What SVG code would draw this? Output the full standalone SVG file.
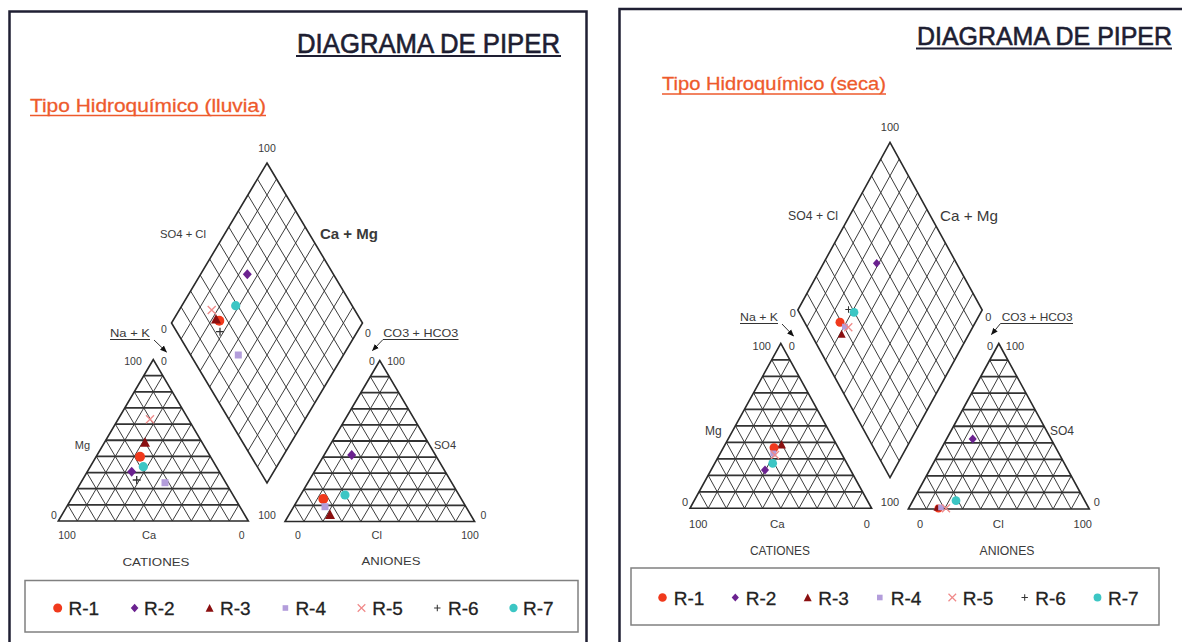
<svg xmlns="http://www.w3.org/2000/svg" width="1182" height="642" viewBox="0 0 1182 642">
<style>
.t{font-family:"Liberation Sans",Arial,sans-serif;fill:#3a3a3a}
.n{font-size:10.5px;text-anchor:middle}
.l{font-size:11px;text-anchor:middle}
.ttl{font-size:27px;fill:#1e1e32;stroke:#1e1e32;stroke-width:0.6}
.sub{font-size:19px;fill:#ee5a2c;stroke:#ee5a2c;stroke-width:0.3}
.lg{font-size:19px;fill:#222;stroke:#222;stroke-width:0.3}
.gd{fill:none;stroke:#3c3c3c;stroke-width:1}
.gh{fill:none;stroke:#333;stroke-width:1.8}
.ge{fill:none;stroke:#2a2a2a;stroke-width:1.6}
.frame{fill:none;stroke:#1f1f33;stroke-width:2.5}
.lbox{fill:#fff;stroke:#808080;stroke-width:1.5}
.ul{stroke:#1e1e32;stroke-width:2.2}
.uls{stroke:#ee5a2c;stroke-width:1.5}
.lead{fill:none;stroke:#333;stroke-width:1}
</style>
<defs>
<marker id="ah" viewBox="0 0 10 10" refX="9" refY="5" markerWidth="7" markerHeight="7" orient="auto" markerUnits="userSpaceOnUse"><path d="M0 1L10 5L0 9Z" fill="#111"/></marker>
<g id="T">
<path class="gd" vector-effect="non-scaling-stroke" d="M-80 100L10 10M-60 100L20 20M-40 100L30 30M-20 100L40 40M0 100L50 50M20 100L60 60M40 100L70 70M60 100L80 80M80 100L90 90M-80 100L-90 90M-60 100L-80 80M-40 100L-70 70M-20 100L-60 60M0 100L-50 50M20 100L-40 40M40 100L-30 30M60 100L-20 20M80 100L-10 10"/>
<path class="gh" vector-effect="non-scaling-stroke" d="M-10 10H10M-20 20H20M-30 30H30M-40 40H40M-50 50H50M-60 60H60M-70 70H70M-80 80H80M-90 90H90"/>
<path class="ge" vector-effect="non-scaling-stroke" d="M0 0L-100 100H100Z"/>
</g>
<g id="D">
<path class="gd" vector-effect="non-scaling-stroke" d="M10 10L-90 110M20 20L-80 120M30 30L-70 130M40 40L-60 140M50 50L-50 150M60 60L-40 160M70 70L-30 170M80 80L-20 180M90 90L-10 190M-10 10L90 110M-20 20L80 120M-30 30L70 130M-40 40L60 140M-50 50L50 150M-60 60L40 160M-70 70L30 170M-80 80L20 180M-90 90L10 190"/>
<path class="ge" vector-effect="non-scaling-stroke" d="M0 0L100 100L0 200L-100 100Z"/>
</g>
<g id="m1"><circle r="5" fill="#f0391c"/></g>
<g id="m2"><path d="M0 -5L4.5 0L0 5L-4.5 0Z" fill="#6b2290"/></g>
<g id="m3"><path d="M0 -5.5L5 4L-5 4Z" fill="#8a0f10"/></g>
<g id="m4"><rect x="-3.5" y="-3.5" width="7" height="7" fill="#b39ddb"/></g>
<g id="m5"><path d="M-4 -4L4 4M4 -4L-4 4" stroke="#f08a8a" stroke-width="1.3"/></g>
<g id="m6"><path d="M-4 0H4M0 -4V4" stroke="#333" stroke-width="1.3"/></g>
<g id="m7"><circle r="4.6" fill="#3cc6c4"/></g>
</defs>
<rect width="1182" height="642" fill="#fff"/>

<!-- LEFT PANEL -->
<g id="panel-lluvia">
<rect class="frame" x="9.5" y="11.5" width="577" height="700"/>
<g id="lluvia-title">
<text class="t ttl" x="297" y="53" textLength="263" lengthAdjust="spacingAndGlyphs">DIAGRAMA DE PIPER</text>
<line class="ul" x1="296" y1="56" x2="561" y2="56"/>
</g>
<g id="lluvia-subtitle">
<text class="t sub" x="30" y="112" textLength="236" lengthAdjust="spacingAndGlyphs">Tipo Hidroquímico (lluvia)</text>
<line class="uls" x1="30" y1="115.5" x2="266" y2="115.5"/>
</g>
<g id="lluvia-diamond">
<use href="#D" transform="translate(267,163) scale(0.955,1.6)"/>
<text class="t n" x="267" y="152">100</text>
<text class="t l" x="183" y="238" textLength="46" lengthAdjust="spacingAndGlyphs">SO4 + Cl</text>
<text class="t" x="349" y="239" font-size="14" font-weight="bold" text-anchor="middle" fill="#222" textLength="58" lengthAdjust="spacingAndGlyphs">Ca + Mg</text>
<text class="t n" x="164" y="333">0</text>
<text class="t n" x="368" y="337">0</text>
<use href="#m2" x="247.3" y="274.3"/>
<use href="#m7" x="235.7" y="305.7"/>
<use href="#m5" x="211.7" y="310"/>
<use href="#m1" x="219.3" y="320.7"/>
<use href="#m3" x="216" y="319.5"/>
<use href="#m6" x="220" y="331.7"/>
<use href="#m4" x="238.3" y="355"/>
</g>
<g id="lluvia-cationes">
<use href="#T" transform="translate(153.3,359.5) scale(0.95,1.615)"/>
<text class="t l" x="130" y="337" textLength="40" lengthAdjust="spacingAndGlyphs">Na + K</text>
<text class="t n" x="133" y="364.5">100</text>
<text class="t n" x="164" y="364.5">0</text>
<text class="t l" x="82.5" y="449">Mg</text>
<text class="t n" x="54" y="519">0</text>
<text class="t n" x="67" y="539">100</text>
<text class="t l" x="149" y="539">Ca</text>
<text class="t n" x="241.7" y="539">0</text>
<text class="t l" x="156" y="566" textLength="67" lengthAdjust="spacingAndGlyphs">CATIONES</text>
<use href="#m5" x="150" y="419.3"/>
<use href="#m3" x="145" y="442.7"/>
<use href="#m1" x="140" y="456.7"/>
<use href="#m7" x="143.3" y="466.7"/>
<use href="#m2" x="131.7" y="471.7"/>
<use href="#m6" x="136.7" y="480"/>
<use href="#m4" x="165" y="482.7"/>
</g>
<g id="lluvia-aniones">
<use href="#T" transform="translate(379.8,360.5) scale(0.948,1.61)"/>
<text class="t l" x="420.8" y="337" textLength="75" lengthAdjust="spacingAndGlyphs">CO3 + HCO3</text>
<text class="t n" x="372" y="364.5">0</text>
<text class="t n" x="396" y="364.5">100</text>
<text class="t l" x="445" y="449">SO4</text>
<text class="t n" x="483.3" y="519">0</text>
<text class="t n" x="267" y="519">100</text>
<text class="t n" x="298" y="539">0</text>
<text class="t l" x="376.7" y="539">Cl</text>
<text class="t n" x="470" y="539">100</text>
<text class="t l" x="391" y="565" textLength="59" lengthAdjust="spacingAndGlyphs">ANIONES</text>
<use href="#m2" x="351.7" y="455"/>
<use href="#m7" x="345" y="495"/>
<use href="#m1" x="323.3" y="499"/>
<use href="#m4" x="325" y="506.7"/>
<use href="#m3" x="330" y="515"/>
</g>
<g id="lluvia-legend">
<rect class="lbox" x="25" y="580.5" width="553" height="51.5"/>
<use href="#m1" transform="translate(57.7,608) scale(0.9)"/>
<text class="t lg" x="68.5" y="615">R-1</text>
<use href="#m2" transform="translate(134.6,608) scale(0.85)"/>
<text class="t lg" x="144" y="615">R-2</text>
<use href="#m3" transform="translate(209.6,608.5) scale(0.8)"/>
<text class="t lg" x="220" y="615">R-3</text>
<use href="#m4" transform="translate(285.4,608) scale(0.8)"/>
<text class="t lg" x="295.4" y="615">R-4</text>
<use href="#m5" transform="translate(361.5,608) scale(0.95)"/>
<text class="t lg" x="372.3" y="615">R-5</text>
<use href="#m6" transform="translate(437.3,608) scale(0.8)"/>
<text class="t lg" x="448" y="615">R-6</text>
<use href="#m7" transform="translate(513.5,608) scale(0.9)"/>
<text class="t lg" x="523" y="615">R-7</text>
</g>
</g>

<!-- RIGHT PANEL -->
<g id="panel-seca">
<rect class="frame" x="619.5" y="9" width="600" height="700"/>
<g id="seca-title">
<text class="t ttl" x="917" y="45" font-size="25" style="font-size:25px" textLength="255" lengthAdjust="spacingAndGlyphs">DIAGRAMA DE PIPER</text>
<line class="ul" x1="916" y1="48.5" x2="1172" y2="48.5"/>
</g>
<g id="seca-subtitle">
<text class="t sub" x="662" y="90" textLength="224" lengthAdjust="spacingAndGlyphs">Tipo Hidroquímico (seca)</text>
<line class="uls" x1="662" y1="94" x2="886" y2="94"/>
</g>
<g id="seca-diamond">
<use href="#D" transform="translate(890,142.3) scale(0.922,1.677)"/>
<text class="t" x="890" y="131" font-size="11" text-anchor="middle">100</text>
<text class="t" x="813" y="219.5" font-size="12" text-anchor="middle" textLength="50" lengthAdjust="spacingAndGlyphs">SO4 + Cl</text>
<text class="t" x="969" y="221" font-size="15" text-anchor="middle" textLength="58" lengthAdjust="spacingAndGlyphs">Ca + Mg</text>
<text class="t" x="792.7" y="317" font-size="11" text-anchor="middle">0</text>
<text class="t" x="988.3" y="320.5" font-size="11" text-anchor="middle">0</text>
<use href="#m2" transform="translate(876.7,263.3) scale(0.85)"/>
<use href="#m6" transform="translate(848.5,309.5) scale(0.8)"/>
<use href="#m7" transform="translate(854,312.3) scale(0.95)"/>
<use href="#m1" transform="translate(840,322.3) scale(0.9)"/>
<use href="#m3" transform="translate(841.7,334.5) scale(0.8)"/>
<use href="#m4" transform="translate(845,326.7) scale(0.85)"/>
<use href="#m5" transform="translate(848.3,327.3)"/>
</g>
<g id="seca-cationes">
<use href="#T" transform="translate(780.8,343.3) scale(0.908,1.65)"/>
<text class="t" x="759" y="321" font-size="11" text-anchor="middle" textLength="38" lengthAdjust="spacingAndGlyphs">Na + K</text>
<text class="t" x="761.7" y="349.5" font-size="11" text-anchor="middle">100</text>
<text class="t" x="791.7" y="349.5" font-size="11" text-anchor="middle">0</text>
<text class="t" x="713.3" y="434.5" font-size="12" text-anchor="middle">Mg</text>
<text class="t" x="685" y="506" font-size="11" text-anchor="middle">0</text>
<text class="t" x="698.3" y="528" font-size="11" text-anchor="middle">100</text>
<text class="t" x="777.3" y="528" font-size="11.5" text-anchor="middle">Ca</text>
<text class="t" x="866.7" y="528" font-size="11" text-anchor="middle">0</text>
<text class="t" x="780" y="554.5" font-size="12" text-anchor="middle" textLength="60" lengthAdjust="spacingAndGlyphs">CATIONES</text>
<use href="#m3" transform="translate(781.7,445) scale(0.85)"/>
<use href="#m1" transform="translate(774,447.7) scale(0.9)"/>
<use href="#m4" transform="translate(773.3,453.5) scale(0.85)"/>
<use href="#m5" transform="translate(775,455)"/>
<use href="#m7" transform="translate(772.7,463.3) scale(0.95)"/>
<use href="#m2" transform="translate(765,470) scale(0.9)"/>
</g>
<g id="seca-aniones">
<use href="#T" transform="translate(998.8,343.5) scale(0.905,1.655)"/>
<text class="t" x="1037.2" y="321" font-size="11" text-anchor="middle" textLength="71" lengthAdjust="spacingAndGlyphs">CO3 + HCO3</text>
<text class="t" x="990" y="349.5" font-size="11" text-anchor="middle">0</text>
<text class="t" x="1015" y="349.5" font-size="11" text-anchor="middle">100</text>
<text class="t" x="1062" y="434.5" font-size="12" text-anchor="middle">SO4</text>
<text class="t" x="890" y="506" font-size="11" text-anchor="middle">100</text>
<text class="t" x="1096.7" y="506" font-size="11" text-anchor="middle">0</text>
<text class="t" x="920" y="528" font-size="11" text-anchor="middle">0</text>
<text class="t" x="998.3" y="528" font-size="11.5" text-anchor="middle">Cl</text>
<text class="t" x="1082.7" y="528" font-size="11" text-anchor="middle">100</text>
<text class="t" x="1007" y="554.5" font-size="12" text-anchor="middle" textLength="55" lengthAdjust="spacingAndGlyphs">ANIONES</text>
<use href="#m2" transform="translate(972.7,439) scale(0.9)"/>
<use href="#m7" transform="translate(956,500.7) scale(0.95)"/>
<use href="#m1" transform="translate(938.5,508.5) scale(0.8)"/>
<use href="#m3" transform="translate(937,508) scale(0.7)"/>
<use href="#m4" transform="translate(941,507.5) scale(0.8)"/>
<use href="#m5" transform="translate(946,508.3)"/>
</g>
<g id="seca-legend">
<rect class="lbox" x="631" y="568" width="528" height="57"/>
<use href="#m1" transform="translate(662.5,597.5) scale(0.85)"/>
<text class="t lg" x="673.8" y="604.5">R-1</text>
<use href="#m2" transform="translate(735.3,597.5) scale(0.8)"/>
<text class="t lg" x="745.8" y="604.5">R-2</text>
<use href="#m3" transform="translate(807.7,598) scale(0.8)"/>
<text class="t lg" x="818.3" y="604.5">R-3</text>
<use href="#m4" transform="translate(879.8,597.5) scale(0.8)"/>
<text class="t lg" x="890.8" y="604.5">R-4</text>
<use href="#m5" transform="translate(952.3,597.5) scale(0.95)"/>
<text class="t lg" x="962.8" y="604.5">R-5</text>
<use href="#m6" transform="translate(1024.7,597.5) scale(0.8)"/>
<text class="t lg" x="1035.3" y="604.5">R-6</text>
<use href="#m7" transform="translate(1097.5,597.5) scale(0.85)"/>
<text class="t lg" x="1108" y="604.5">R-7</text>
</g>
</g>

<g id="connectors">
<line class="lead" x1="110" y1="339.5" x2="150" y2="339.5"/>
<line class="lead" x1="154" y1="340" x2="166.5" y2="352" marker-end="url(#ah)"/>
<polyline class="lead" points="458.5,339.5 383,339.5 372.5,350.5" marker-end="url(#ah)"/>
<line class="lead" x1="740" y1="323.5" x2="778" y2="323.5"/>
<line class="lead" x1="782" y1="324" x2="793.5" y2="336" marker-end="url(#ah)"/>
<polyline class="lead" points="1073,323.5 1000.5,323.5 991.5,334.5" marker-end="url(#ah)"/>
</g>
</svg>
